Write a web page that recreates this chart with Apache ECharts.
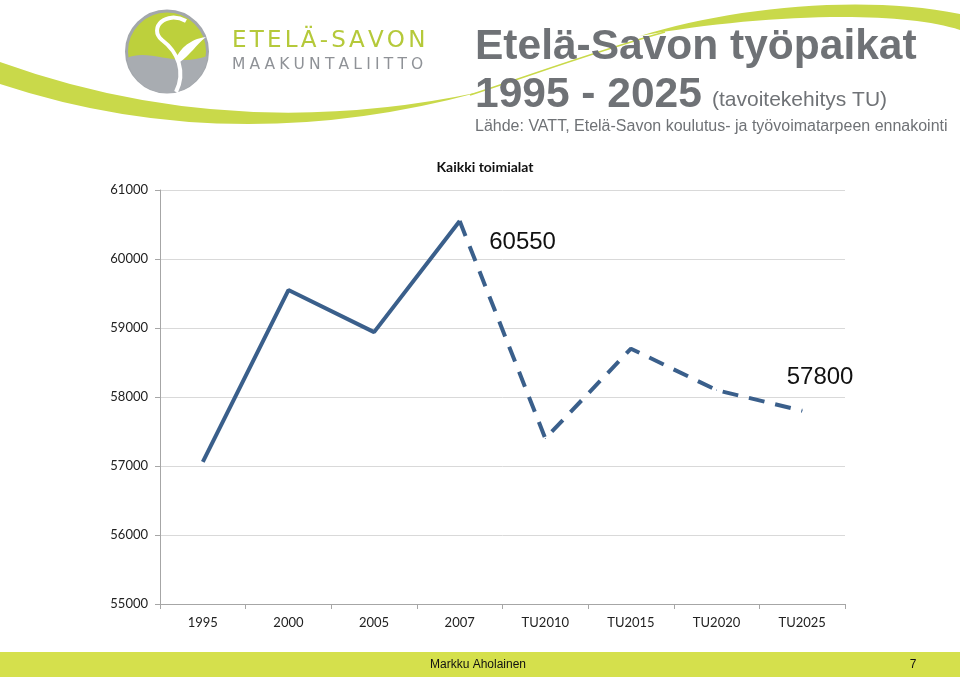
<!DOCTYPE html>
<html>
<head>
<meta charset="utf-8">
<script src="https://cdn.jsdelivr.net/npm/echarts@6/dist/echarts.min.js"></script>
<style>
  html, body { margin: 0; padding: 0; background: #fff; }
  #main { width: 960px; height: 682px; }
</style>
</head>
<body>
<div id="main"></div>
<script>
// data
const categories = ["1995", "2000", "2005", "2007", "TU2010", "TU2015", "TU2020", "TU2025"];
const actual = [57060, 59550, 58940, 60550, "-", "-", "-", "-"];
const target = ["-", "-", "-", 60550, 57400, 58700, 58100, 57800];
const yTicks = { min: 55000, max: 61000, interval: 1000 };

const lineColor = "#3A5F8B";
const grayText = "#6F7276";

// decorative svg paths (swooshes, logo) registered as shapes
const decoPaths = {
  swooshLeft: "M0,62 Q230,145 480,92 Q230,160 0,84 Z",
  swooshThin: "M470,95 C540,72 600,50 665,32",
  swooshTop: "M640,36 C730,8 860,-6 960,14 L960,30 C900,10 760,14 640,36 Z",
  logoBottom: "M127,58 C150,48 175,68 207.5,56 A40.5,40.5 0 0 1 127,58 Z",
  logoS: "M186,21 C166,10 148,28 162,40 C178,52 186,72 176,92",
  logoLeaf: "M176,58 C184,42 198,38 206,37 C196,45 190,55 180,62 Z"
};
Object.keys(decoPaths).forEach(k => {
  echarts.graphic.registerShape(k, echarts.graphic.extendPath(decoPaths[k], {}));
});

// letter-spaced text, one glyph per element
const measureCtx = document.createElement("canvas").getContext("2d");
function spacedText(str, x, y, font, color, spacing) {
  measureCtx.font = font;
  let out = [];
  let cx = x;
  for (const ch of str) {
    out.push({
      type: "text", x: cx, y: y, silent: true,
      style: { text: ch, font: font, fill: color, textVerticalAlign: "middle" }
    });
    cx += measureCtx.measureText(ch).width + spacing;
  }
  return out;
}

const chart = echarts.init(document.getElementById("main"));

let graphics = [
  { type: "swooshLeft", silent: true, style: { fill: "#C9D94A" } },
  { type: "swooshThin", silent: true, style: { stroke: "#C9D94A", lineWidth: 1.5, fill: null } },
  { type: "swooshTop", silent: true, style: { fill: "#C9D94A" } },
  // logo
  { type: "circle", silent: true, shape: { cx: 167, cy: 51.5, r: 40.5 },
    style: { fill: "#BDD03C", stroke: "#A3A7AC", lineWidth: 3 } },
  { type: "logoBottom", silent: true, style: { fill: "#A8ACB1" } },
  { type: "logoS", silent: true, style: { stroke: "#fff", lineWidth: 4, fill: null } },
  { type: "logoLeaf", silent: true, style: { fill: "#fff" } },
  // title block
  { type: "text", x: 475, y: 47, silent: true,
    style: { text: "Etelä-Savon työpaikat", font: "bold 42.5px 'Liberation Sans'", fill: grayText, textVerticalAlign: "middle" } },
  { type: "text", x: 475, y: 95, silent: true,
    style: { text: "1995 - 2025", font: "bold 42.5px 'Liberation Sans'", fill: grayText, textVerticalAlign: "middle" } },
  { type: "text", x: 712, y: 100, silent: true,
    style: { text: "(tavoitekehitys TU)", font: "21px 'Liberation Sans'", fill: grayText, textVerticalAlign: "middle" } },
  { type: "text", x: 475, y: 127, silent: true,
    style: { text: "Lähde: VATT, Etelä-Savon koulutus- ja työvoimatarpeen ennakointi", font: "16px 'Liberation Sans'", fill: grayText, textVerticalAlign: "middle" } },
  // footer
  { type: "rect", silent: true, shape: { x: 0, y: 652, width: 960, height: 25 },
    style: { fill: "#D5E04C" } },
  { type: "text", x: 478, y: 665, silent: true,
    style: { text: "Markku Aholainen", font: "12px 'Liberation Sans Narrow', 'Liberation Sans'", fill: "#111", textAlign: "center", textVerticalAlign: "middle" } },
  { type: "text", x: 913, y: 665, silent: true,
    style: { text: "7", font: "12px 'Liberation Sans Narrow', 'Liberation Sans'", fill: "#111", textAlign: "center", textVerticalAlign: "middle" } }
];
graphics = graphics
  .concat(spacedText("ETELÄ-SAVON", 232, 41, "23px 'DejaVu Sans'", "#B5C93A", 3.2))
  .concat(spacedText("MAAKUNTALIITTO", 232, 65, "15.5px 'DejaVu Sans'", "#8F9297", 4.2));

chart.setOption({
  animation: false,
  backgroundColor: "#fff",
  title: {
    text: "Kaikki toimialat",
    left: 480, top: 155,
    textAlign: "center",
    textStyle: { fontFamily: "Lato", fontWeight: "bold", fontSize: 14, color: "#111" }
  },
  grid: { left: 160, right: 115, top: 190, bottom: 78 },
  xAxis: {
    type: "category",
    data: categories,
    boundaryGap: true,
    axisLine: { lineStyle: { color: "#A6A6A6" } },
    axisTick: { show: true, length: 5, lineStyle: { color: "#A6A6A6" } },
    axisLabel: { fontFamily: "Lato", fontSize: 13, color: "#222", margin: 12 }
  },
  yAxis: {
    type: "value",
    min: yTicks.min, max: yTicks.max, interval: yTicks.interval,
    axisLine: { show: true, lineStyle: { color: "#A6A6A6" } },
    axisTick: { show: true, length: 5, lineStyle: { color: "#A6A6A6" } },
    splitLine: { lineStyle: { color: "#D9D9D9" } },
    axisLabel: { fontFamily: "Lato", fontSize: 13, color: "#222", margin: 12, formatter: v => String(v) }
  },
  series: [
    {
      type: "line", data: actual, showSymbol: false, symbol: "none",
      lineStyle: { color: lineColor, width: 4 }
    },
    {
      type: "line", showSymbol: true, symbol: "circle", symbolSize: 1,
      itemStyle: { color: lineColor },
      data: target.map((v, i) => {
        if (i === 3) return { value: v, label: { show: true, position: "right", offset: [24, 21] } };
        if (i === 7) return { value: v, label: { show: true, position: "right", offset: [-21, -33] } };
        return v;
      }),
      label: { show: false, fontFamily: "Liberation Sans", fontSize: 24, color: "#111" },
      lineStyle: { color: lineColor, width: 4, type: [16, 11], cap: "butt" }
    }
  ],
  graphic: graphics
});
</script>
</body>
</html>
